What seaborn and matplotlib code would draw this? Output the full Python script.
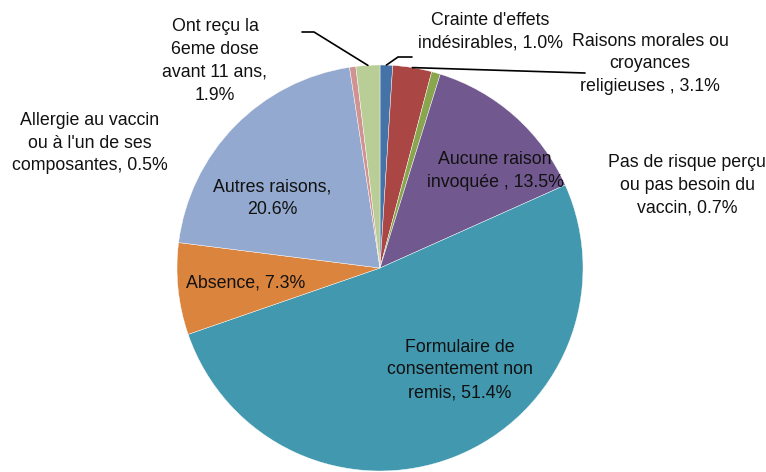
import matplotlib
matplotlib.use("Agg")
import numpy as np
import matplotlib.pyplot as plt
import seaborn as sns

# data (clockwise from top)
categories = ["Crainte d'effets\nindésirables", "Raisons morales ou\ncroyances\nreligieuses ",
              "Pas de risque perçu\nou pas besoin du\nvaccin", "Aucune raison\ninvoquée ",
              "Formulaire de\nconsentement non\nremis", "Absence", "Autres raisons",
              "Allergie au vaccin\nou à l'un de ses\ncomposantes", "Ont reçu la\n6eme dose\navant 11 ans"]
values = [1.0, 3.1, 0.7, 13.5, 51.4, 7.3, 20.6, 0.5, 1.9]
colors = ["#4572A7", "#AA4643", "#89A54E", "#71588F", "#4198AF",
          "#DB843D", "#93A9CF", "#D19392", "#B9CD96"]
# separator between name and value in each label
seps = [", ", ", ", ", ", ", ", ", ", ", ", ",\n", ", ", ",\n"]

sns.set_style("white")
plt.rcParams["font.family"] = ["Liberation Sans", "DejaVu Sans"]

W, H = 766, 472
cx, cy, R = 380, 268, 203
fig = plt.figure(figsize=(W / 100, H / 100), dpi=100)
ax = fig.add_axes([(cx - R) / W, (H - cy - R) / H, 2 * R / W, 2 * R / H])
wedges, _ = ax.pie(values, colors=sns.color_palette(colors), startangle=90,
                   counterclock=False, radius=1,
                   wedgeprops=dict(edgecolor="white", linewidth=0.3))
ax.set_xlim(-1, 1)
ax.set_ylim(-1, 1)
ax.set_aspect("equal")
ax.axis("off")


def px(x, y):
    return (x - cx) / R, (cy - y) / R


# label positions in pixels (layout only)
label_pos = [(490, 32), (650, 64), (687, 185), (495, 171), (460, 370),
             (246, 283), (272, 198), (90, 143), (215, 61)]
for cat, v, sep, (lx, ly) in zip(categories, values, seps, label_pos):
    ax.text(*px(lx, ly), f"{cat}{sep}{v:.1f}%", ha="center", va="center",
            fontsize=12.8, linespacing=1.45, color="#111111")

# leader lines for the thin slices
leaders = {0: [(398, 57), (412, 57)], 1: [(585, 73)], 8: [(314, 32), (302, 32)]}
for i, pts in leaders.items():
    w = wedges[i]
    a = np.deg2rad((w.theta1 + w.theta2) / 2)
    xs = [np.cos(a)] + [px(*p)[0] for p in pts]
    ys = [np.sin(a)] + [px(*p)[1] for p in pts]
    ax.plot(xs, ys, color="black", lw=1.2, clip_on=False)

fig.savefig("out.png", dpi=100)
